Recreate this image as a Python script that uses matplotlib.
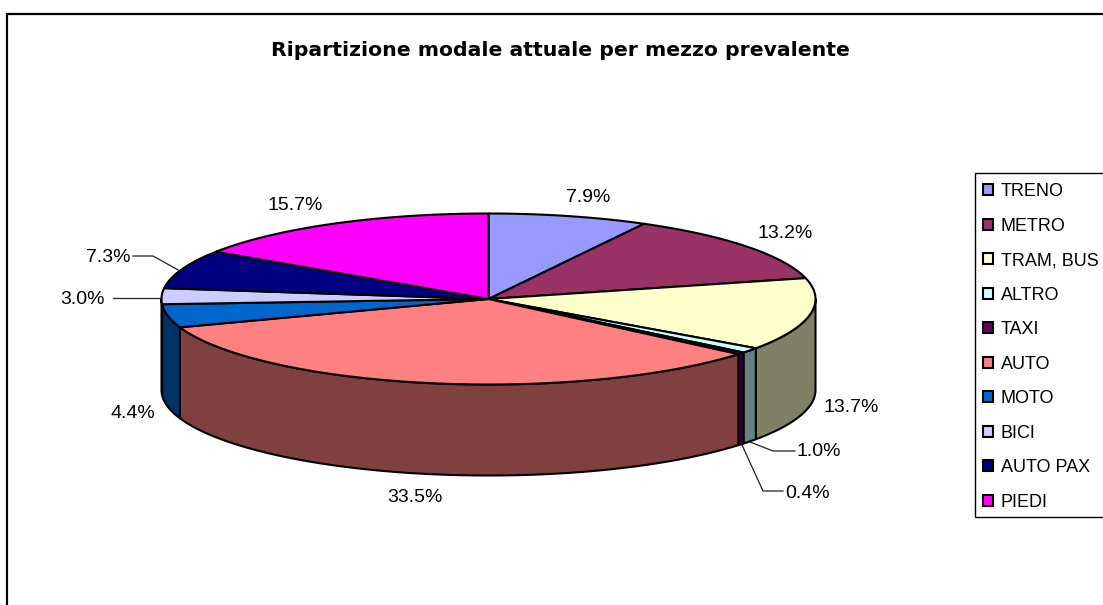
import numpy as np
import matplotlib
matplotlib.use("Agg")
import matplotlib.pyplot as plt
from matplotlib.patches import Polygon, Patch, Rectangle

categories = ["TRENO", "METRO", "TRAM, BUS", "ALTRO", "TAXI", "AUTO", "MOTO", "BICI", "AUTO PAX", "PIEDI"]
values = [7.9, 13.2, 13.7, 1.0, 0.4, 33.5, 4.4, 3.0, 7.3, 15.7]
value_labels = ["7.9%", "13.2%", "13.7%", "1.0%", "0.4%", "33.5%", "4.4%", "3.0%", "7.3%", "15.7%"]
top_colors = ["#9999FF", "#993366", "#FFFFCC", "#CCFFFF", "#660066", "#FF8080", "#0066CC", "#CCCCFF", "#000080", "#FF00FF"]
wall_colors = ["#4D4D80", "#4D1A33", "#808066", "#668080", "#330033", "#804040", "#003366", "#666680", "#000040", "#800080"]
title = "Ripartizione modale attuale per mezzo prevalente"

W, H = 1103, 605
plt.rcParams["font.family"] = ["Liberation Sans", "DejaVu Sans"]
fig = plt.figure(figsize=(W / 100, H / 100), dpi=100, facecolor="white")

# overlay in pixel coordinates for frame, labels, leaders
ov = fig.add_axes([0, 0, 1, 1], zorder=3)
ov.set_xlim(0, W); ov.set_ylim(H, 0); ov.axis("off"); ov.patch.set_alpha(0)

# pie axes: the unit circle maps onto the top ellipse
cx, cy, rx, ry, depth = 488.5, 299, 327, 85.5, 91
ax = fig.add_axes([(cx - rx) / W, 1 - (cy + ry) / H, 2 * rx / W, 2 * ry / H], zorder=2)
ax.set_xlim(-1, 1); ax.set_ylim(-1, 1); ax.axis("off")
d = depth / ry

vals = np.array(values, dtype=float)
edges = np.concatenate([[0], np.cumsum(vals)]) / vals.sum() * 2 * np.pi

def arc(a, b):
    n = max(2, int(abs(b - a) / 0.01))
    t = np.linspace(a, b, n)
    return np.sin(t), np.cos(t)

LW = 1.5
for i in range(len(vals)):
    a, b = max(edges[i], np.pi / 2), min(edges[i + 1], 3 * np.pi / 2)
    if b <= a:
        continue
    x, y = arc(a, b)
    pts = np.column_stack([np.r_[x, x[::-1]], np.r_[y, y[::-1] - d]])
    ax.add_patch(Polygon(pts, closed=True, fc=wall_colors[i], ec="black", lw=LW, clip_on=False, joinstyle="round"))

for i in range(len(vals)):
    x, y = arc(edges[i], edges[i + 1])
    pts = np.column_stack([np.r_[0, x], np.r_[0, y]])
    ax.add_patch(Polygon(pts, closed=True, fc=top_colors[i], ec="black", lw=LW, clip_on=False, joinstyle="round"))

# chart frame (open at the cropped right and bottom)
ov.plot([7, 7, W + 5], [H + 5, 14, 14], color="black", lw=1.6, solid_joinstyle="miter", clip_on=True)

ov.text(560.5, 50, title, ha="center", va="center", fontsize=14.7, fontweight="bold",
        family=["DejaVu Sans"], color="black")

label_pos = [(588, 198), (785, 233), (851, 408), (819, 451), (808, 493),
             (415, 498), (133, 413), (82, 299), (108, 257), (295, 205)]
for s, (x, y) in zip(value_labels, label_pos):
    ov.text(x, y, s, ha="center", va="center", fontsize=14, color="black")

leaders = [([133, 153, 180], [256, 256, 271]),
           ([113, 161], [298, 298]),
           ([795, 773, 750], [451, 451, 442]),
           ([783, 763, 742], [491, 491, 445])]
for lx, ly in leaders:
    ov.plot(lx, ly, color="#222222", lw=0.9)

# legend frame runs past the cropped right edge
ov.add_patch(Rectangle((975, 173), 140, 344, fc="white", ec="black", lw=1.0, zorder=1))

handles = [Patch(fc=c, ec="black", lw=1.5) for c in top_colors]
leg = fig.legend(handles, categories, loc="upper left",
                 bbox_to_anchor=(982.5 / W, 1 - 183 / H), bbox_transform=fig.transFigure,
                 borderaxespad=0, fontsize=13, frameon=False, borderpad=0,
                 handlelength=0.58, handleheight=0.58, handletextpad=0.42, labelspacing=0.97)
leg.set_zorder(5)

fig.savefig("out.png", dpi=100)
